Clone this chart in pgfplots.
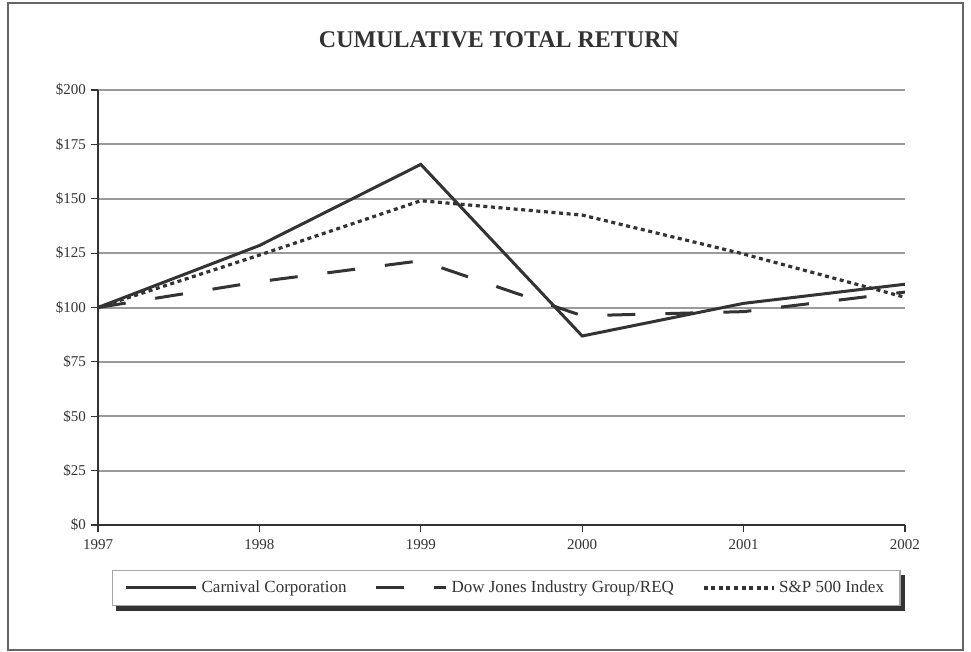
\documentclass[border=0pt]{standalone}
\usepackage{pgfplots}
\pgfplotsset{compat=1.18}
\usetikzlibrary{backgrounds}
\usepackage{fontspec}
\setmainfont{Liberation Serif}
\definecolor{ink}{HTML}{333333}
\definecolor{gridc}{HTML}{9A9A9A}
\begin{document}
\begin{tikzpicture}
\path (0pt,0pt) rectangle (485.5pt,-326pt);
\draw[gray!80!black, line width=0.7pt] (4pt,-1.5pt) rectangle (481.5pt,-325pt);
\node[font=\fontsize{12}{14}\selectfont\bfseries, text=ink] at (249.5pt,-20pt) {CUMULATIVE TOTAL RETURN};
\begin{axis}[
  at={(49pt,-262.5pt)}, anchor=south west,
  scale only axis, width=403.5pt, height=217.5pt,
  xmin=1997, xmax=2002, ymin=0, ymax=200,
  axis lines=left, axis line style={-, ink, line width=0.6pt},
  xtick={1997,1998,1999,2000,2001,2002},
  xticklabels={1997,1998,1999,2000,2001,2002},
  ytick={0,25,50,75,100,125,150,175,200},
  yticklabels={\$0,\$25,\$50,\$75,\$100,\$125,\$150,\$175,\$200},
  tick align=outside, major tick length=3.5pt,
  tick style={ink, line width=0.6pt},
  ymajorgrids, grid style={gridc, line width=1pt},
  ticklabel style={font=\fontsize{7.5}{9}\selectfont, text=ink},
  yticklabel style={xshift=1pt},
  /pgf/number format/assume math mode=true,
  legend columns=3,
  legend style={at={(0.506,-0.1034)}, anchor=north, name=leg,
    draw=gray!70, line width=0.6pt, fill=white,
    font=\fontsize{8.5}{10}\selectfont, text=ink,
    inner xsep=6pt, inner ysep=3pt,
    /tikz/every even column/.append style={column sep=12pt}},
  legend image code/.code={\draw[#1] (0pt,0pt) -- (35pt,0pt);},
]
\addplot[ink, line width=1.5pt] coordinates {(1997,100) (1998,128.5) (1999,165.8) (2000,86.9) (2001,101.9) (2002,110.7)};
\addlegendentry{Carnival Corporation}
\addplot[ink, line width=1.5pt, dash pattern=on 14pt off 15pt] coordinates {(1997,100) (1998,111.9) (1999,121.5) (2000,96.2) (2001,98.1) (2002,107.1)};
\addlegendentry{Dow Jones Industry Group/REQ}
\addplot[ink, line width=1.6pt, dash pattern=on 2pt off 1.8pt] coordinates {(1997,100) (1998,124.1) (1999,149.1) (2000,142.5) (2001,124.6) (2002,104.7)};
\addlegendentry{S\&P 500 Index}
\end{axis}
\begin{pgfonlayer}{background}
\fill[ink] ([xshift=2pt,yshift=-2.5pt]leg.south west) rectangle ([xshift=2pt,yshift=-2.5pt]leg.north east);
\end{pgfonlayer}
\end{tikzpicture}
\end{document}
